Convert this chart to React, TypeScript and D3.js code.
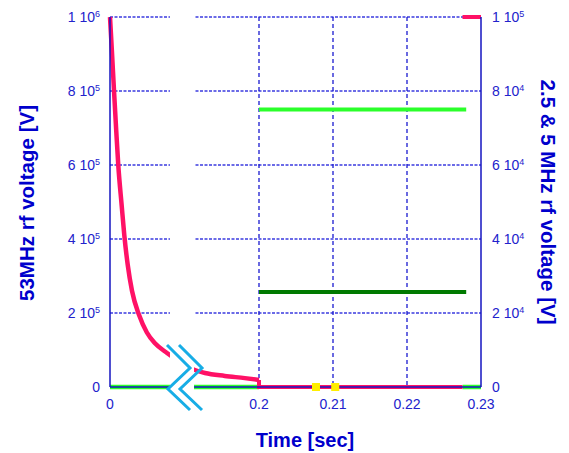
import React from 'react';
import * as d3 from 'd3';

// 53 MHz voltage decay (left axis)
const decayTimes = [0, 0.0025, 0.0054, 0.0083, 0.0111, 0.0157, 0.0192, 0.0238, 0.0295, 0.0389, 0.0493, 0.0604, 0.0765, 0.114, 0.1275, 0.154, 0.181, 0.2];
const decayVolts = [1e6, 9.1e5, 8e5, 6.95e5, 6e5, 4.9e5, 4.1e5, 3.3e5, 2.6e5, 1.95e5, 1.48e5, 1.18e5, 0.92e5, 4.6e4, 3.8e4, 3.0e4, 2.4e4, 1.9e4];

// 53 MHz after 0.2 s: off, then back on at the end
const pinkOffTimes = [0.2, 0.2275];
const pinkOnTimes = [0.2275, 0.23];
const pinkOnVolts = 1e6;

// 2.5 & 5 MHz voltages (right axis)
const greenBaseTimes = [0, 0.2];
const greenTailTimes = [0.2275, 0.23];
const flatTimes = [0.2, 0.228];
const fiveMHzVolts = 75000;
const twoFiveMHzVolts = 25700;

// yellow markers on the time axis
const markerTimes = [0.2077, 0.2103];

const xTicks = [0, 0.2, 0.21, 0.22, 0.23];
const leftTicks = [0, 2e5, 4e5, 6e5, 8e5, 1e6];
const rightTicks = [0, 2e4, 4e4, 6e4, 8e4, 1e5];

// time axis break (in seconds)
const breakFrom = 0.0805;
const breakTo = 0.1128;

const width = 569;
const height = 453;
const font = 'Liberation Sans, Arial, sans-serif';
const pink = '#ff1166';
const green = '#2bff2b';
const darkGreen = '#007a00';
const axisBlue = '#1515c0';
const textBlue = '#2222cc';

const sci = (v: number) => {
  if (v === 0) return null;
  const e = Math.floor(Math.log10(v));
  return { m: Math.round(v / Math.pow(10, e)), e };
};

const TickLabel = ({ v, x, y, anchor }: { v: number; x: number; y: number; anchor: string }) => {
  const s = sci(v);
  return (
    <text x={x} y={y} dy="0.36em" textAnchor={anchor} fontSize={14} fill={textBlue} fontFamily={font}>
      {s ? (
        <>
          {`${s.m} 10`}
          <tspan fontSize={9} dy="-0.6em">{s.e}</tspan>
        </>
      ) : (
        '0'
      )}
    </text>
  );
};

export default function App() {
  const x = d3.scaleLinear().domain([0, 0.2, 0.23]).range([110, 259, 481]);
  const yL = d3.scaleLinear().domain([0, 1e6]).range([387, 17]);
  const yR = d3.scaleLinear().domain([0, 1e5]).range([387, 17]);

  const x0 = x(0);
  const x1 = x(0.23);
  const [yBottom, yTop] = yL.range();

  const decayLine = d3
    .line<number>()
    .x((_, i) => x(decayTimes[i]))
    .y((d) => yL(d))
    .curve(d3.curveMonotoneX)(decayVolts);

  const seg = (ts: number[], v: number, y: d3.ScaleLinear<number, number>) =>
    `M${x(ts[0])},${y(v)}L${x(ts[1])},${y(v)}`;

  const lastDecay = decayVolts[decayVolts.length - 1];
  const offPath = `M${x(pinkOffTimes[0])},${yL(lastDecay)}L${x(pinkOffTimes[0])},${yL(0)}L${x(pinkOffTimes[1])},${yL(0)}`;

  const bx0 = x(breakFrom);
  const bx1 = x(breakTo);
  const bc = (bx0 + bx1) / 2;
  const zig = (dx: number) =>
    d3.line()([
      [bc - 15 + dx, yBottom - 42],
      [bc + 8 + dx, yBottom - 19],
      [bc - 14 + dx, yBottom + 2],
      [bc + 8 + dx, yBottom + 23],
    ]);

  return (
    <svg width={width} height={height} style={{ position: 'absolute', left: 0, top: 0 }}>
      <rect width={width} height={height} fill="white" />

      {/* horizontal grid */}
      {leftTicks.slice(1).map((t) => (
        <line key={t} x1={x0} x2={x1} y1={yL(t)} y2={yL(t)} stroke="#3b3be0" strokeWidth={1.5} strokeDasharray="3,1.5" />
      ))}
      {/* vertical grid */}
      {xTicks.slice(1, 4).map((t) => (
        <line key={t} x1={x(t)} x2={x(t)} y1={yTop} y2={yBottom} stroke="#1a1ad0" strokeWidth={1.3} strokeDasharray="4,3" />
      ))}

      {/* green series */}
      <path d={seg(greenBaseTimes, 0, yR)} stroke={green} strokeWidth={4.5} fill="none" />
      <path d={seg(greenTailTimes, 0, yR)} stroke={green} strokeWidth={4.5} fill="none" />
      <path d={seg(flatTimes, fiveMHzVolts, yR)} stroke={green} strokeWidth={4} fill="none" />
      <path d={seg(flatTimes, twoFiveMHzVolts, yR)} stroke={darkGreen} strokeWidth={4} fill="none" />

      {/* 53 MHz series */}
      <path d={decayLine ?? ''} stroke={pink} strokeWidth={4.5} fill="none" />
      <path d={offPath} stroke={pink} strokeWidth={4} fill="none" />
      <path d={seg(pinkOnTimes, pinkOnVolts, yL)} stroke={pink} strokeWidth={4} fill="none" />

      {/* axes */}
      <line x1={x0} x2={x1} y1={yBottom} y2={yBottom} stroke={axisBlue} strokeWidth={1.5} />
      <line x1={x0} x2={x0} y1={yTop} y2={yBottom} stroke={axisBlue} strokeWidth={1.5} />
      <line x1={x1} x2={x1} y1={yTop} y2={yBottom} stroke={axisBlue} strokeWidth={1.5} />

      {markerTimes.map((t) => (
        <rect key={t} x={x(t) - 4} y={yBottom - 4} width={8} height={8} fill="#ffee00" />
      ))}

      {/* axis break */}
      <rect x={bx0} y={yTop - 5} width={bx1 - bx0} height={yBottom - yTop + 10} fill="white" />
      <path d={zig(0) ?? ''} stroke="#17ade6" strokeWidth={3} fill="none" />
      <path d={zig(12) ?? ''} stroke="#17ade6" strokeWidth={3} fill="none" />

      {/* tick labels */}
      {leftTicks.map((t) => (
        <TickLabel key={t} v={t} x={x0 - 10} y={yL(t)} anchor="end" />
      ))}
      {rightTicks.map((t) => (
        <TickLabel key={t} v={t} x={x1 + 11} y={yR(t)} anchor="start" />
      ))}
      {xTicks.map((t) => (
        <text key={t} x={x(t)} y={yBottom + 22} textAnchor="middle" fontSize={14} fill={textBlue} fontFamily={font}>
          {t === 0 ? '0' : String(t)}
        </text>
      ))}

      {/* titles */}
      <text x={305} y={447} textAnchor="middle" fontSize={20} fontWeight="bold" fill="#0000cc" fontFamily={font}>
        Time [sec]
      </text>
      <text
        transform={`translate(34,203) rotate(-90)`}
        textAnchor="middle"
        fontSize={20.5}
        fontWeight="bold"
        fill="#0000cc"
        fontFamily={font}
      >
        53MHz rf voltage [V]
      </text>
      <text
        transform={`translate(541,202) rotate(90)`}
        textAnchor="middle"
        fontSize={20.5}
        fontWeight="bold"
        fill="#0000cc"
        fontFamily={font}
      >
        2.5 &amp; 5 MHz rf voltage [V]
      </text>
    </svg>
  );
}
